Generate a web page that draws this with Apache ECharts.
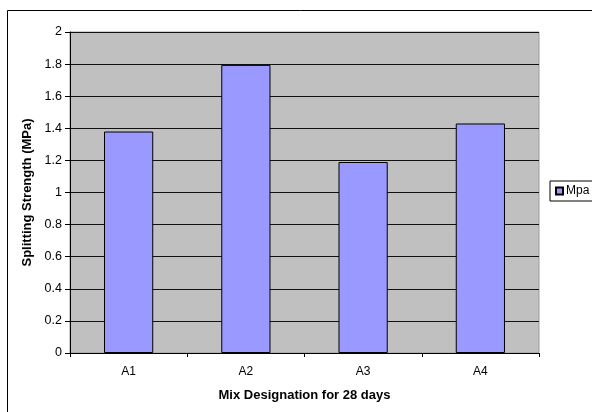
<!DOCTYPE html>
<html>
<head>
<meta charset="utf-8">
<script src="https://cdn.jsdelivr.net/npm/echarts@6/dist/echarts.min.js"></script>
<style>
  html, body { margin: 0; padding: 0; background: #fff; }
  #chart { width: 592px; height: 412px; }
</style>
</head>
<body>
<div id="chart"></div>
<script>
// Splitting strength at 28 days per mix
const categories = ['A1', 'A2', 'A3', 'A4'];
const strengthMpa = [1.38, 1.795, 1.19, 1.43];
const seriesName = 'Mpa';

const chart = echarts.init(document.getElementById('chart'), null, { renderer: 'canvas' });
const font = 'Arial, "Liberation Sans", sans-serif';

chart.setOption({
  animation: false,
  backgroundColor: '#ffffff',
  graphic: [{
    type: 'rect',
    shape: { x: 7.5, y: 10.5, width: 620, height: 420 },
    style: { fill: 'none', stroke: '#000', lineWidth: 1 },
    silent: true
  }],
  grid: {
    left: 70, top: 32, right: 53, bottom: 59,
    show: true,
    backgroundColor: '#C0C0C0',
    borderColor: '#9a9a9a',
    borderWidth: 1
  },
  legend: {
    data: [seriesName],
    left: 550, top: 181,
    orient: 'vertical',
    icon: 'rect',
    itemWidth: 7, itemHeight: 7,
    itemGap: 0,
    padding: [4, 12, 4, 5],
    borderColor: '#000', borderWidth: 1,
    backgroundColor: '#fff',
    textStyle: { fontFamily: font, fontSize: 12, color: '#000', padding: [0, 0, 0, -2] }
  },
  xAxis: {
    type: 'category',
    data: categories,
    name: 'Mix Designation for 28 days',
    nameLocation: 'middle',
    nameGap: 36,
    nameTextStyle: { fontFamily: font, fontSize: 13, fontWeight: 'bold', color: '#000' },
    axisLine: { lineStyle: { color: '#000', width: 1 } },
    axisTick: { show: true, length: 4, lineStyle: { color: '#000' } },
    axisLabel: { fontFamily: font, fontSize: 12, color: '#000', margin: 13 }
  },
  yAxis: {
    type: 'value',
    min: 0, max: 2, interval: 0.2,
    name: 'Splitting Strength (MPa)',
    nameLocation: 'middle',
    nameGap: 34,
    nameRotate: 90,
    nameTextStyle: { fontFamily: font, fontSize: 13, fontWeight: 'bold', color: '#000' },
    axisLine: { show: true, lineStyle: { color: '#000', width: 1 } },
    axisTick: { show: true, length: 5, lineStyle: { color: '#000' } },
    axisLabel: { fontFamily: font, fontSize: 12.5, color: '#000', margin: 8 },
    splitLine: { show: true, lineStyle: { color: '#111', width: 1 } }
  },
  series: [{
    name: seriesName,
    type: 'bar',
    data: strengthMpa,
    barWidth: '42%',
    itemStyle: { color: '#9999FF', borderColor: '#000', borderWidth: 1 }
  }]
});
</script>
</body>
</html>
